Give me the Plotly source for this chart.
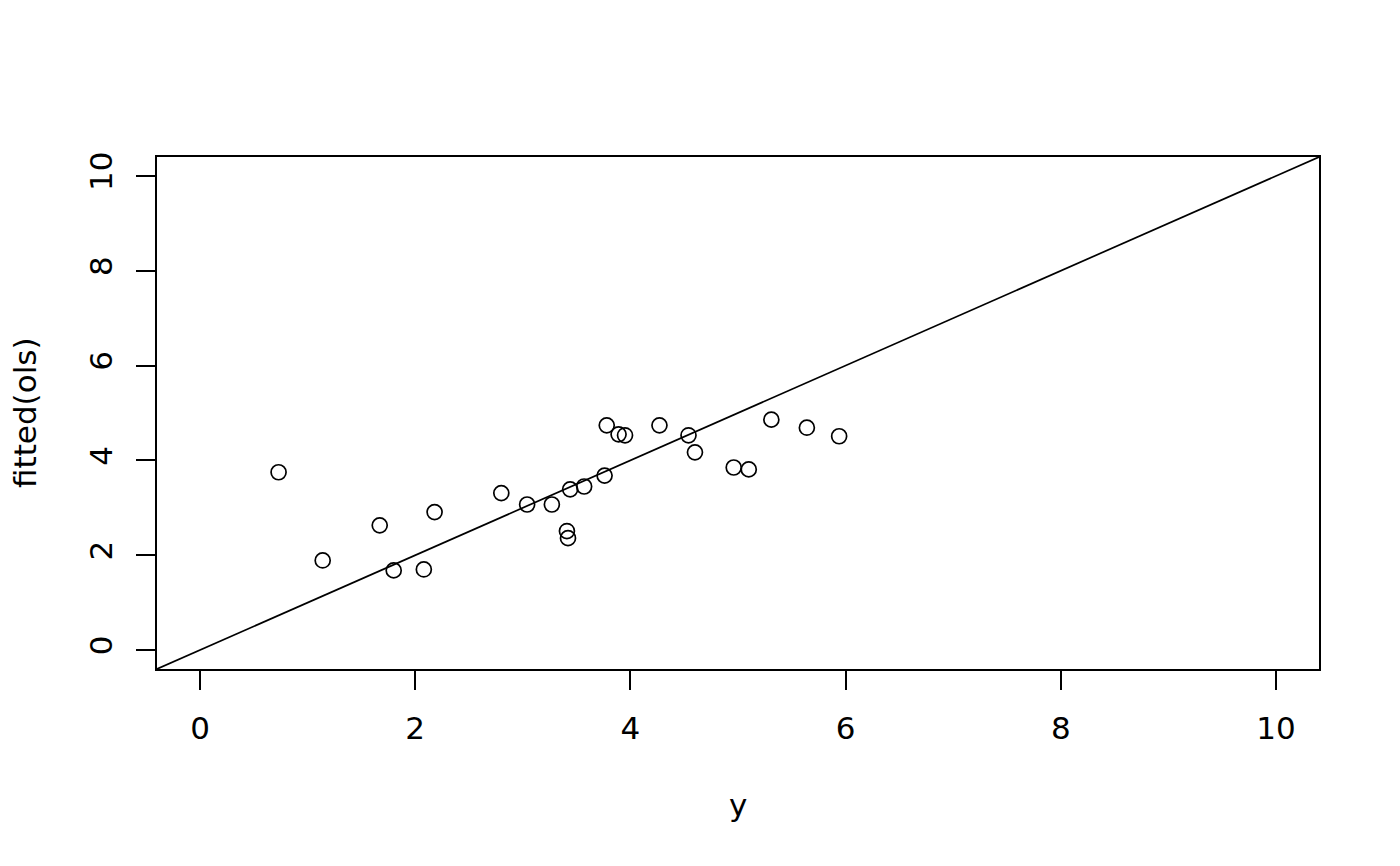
import plotly.graph_objects as go

y_obs = [0.73, 1.14, 1.67, 1.80, 2.08, 2.18, 2.80, 3.04, 3.27, 3.41, 3.42, 3.44, 3.57,
         3.76, 3.78, 3.89, 3.95, 4.27, 4.54, 4.60, 4.96, 5.10, 5.31, 5.64, 5.94]
fitted = [3.75, 1.89, 2.63, 1.68, 1.70, 2.91, 3.31, 3.07, 3.07, 2.51, 2.36, 3.39, 3.45,
          3.68, 4.74, 4.55, 4.53, 4.74, 4.53, 4.17, 3.85, 3.81, 4.86, 4.69, 4.51]
ticks = [0, 2, 4, 6, 8, 10]
rng = [-0.4, 10.4]

FONT = "DejaVu Sans"
FS = 31

fig = go.Figure()
fig.add_trace(go.Scatter(x=rng, y=rng, mode="lines",
                         line=dict(color="black", width=1.7), hoverinfo="skip"))
fig.add_trace(go.Scatter(x=y_obs, y=fitted, mode="markers",
                         marker=dict(symbol="circle-open", size=15, color="black",
                                     line=dict(width=1.7, color="black"))))

axis_common = dict(range=rng, tickvals=ticks, ticks="outside", ticklen=19, tickwidth=1.7,
                   tickcolor="black", showgrid=False, zeroline=False, showline=True,
                   linecolor="black", linewidth=1.7, mirror=True,
                   tickfont=dict(family=FONT, size=FS, color="black"))
fig.update_xaxes(**axis_common, ticklabelstandoff=12)
fig.update_yaxes(**axis_common, tickangle=-90, ticklabelstandoff=12)

fig.add_annotation(text="y", xref="paper", yref="paper", x=0.5, y=0, yshift=-136,
                   showarrow=False, font=dict(family=FONT, size=FS, color="black"),
                   xanchor="center", yanchor="middle")
fig.add_annotation(text="fitted(ols)", xref="paper", yref="paper", x=0, y=0.5, xshift=-132,
                   showarrow=False, textangle=-90, font=dict(family=FONT, size=FS, color="black"),
                   xanchor="center", yanchor="middle")

fig.update_layout(width=1392, height=858, showlegend=False,
                  margin=dict(l=149, r=81, t=149, b=197),
                  plot_bgcolor="white", paper_bgcolor="white")
fig.write_html("out.html")
